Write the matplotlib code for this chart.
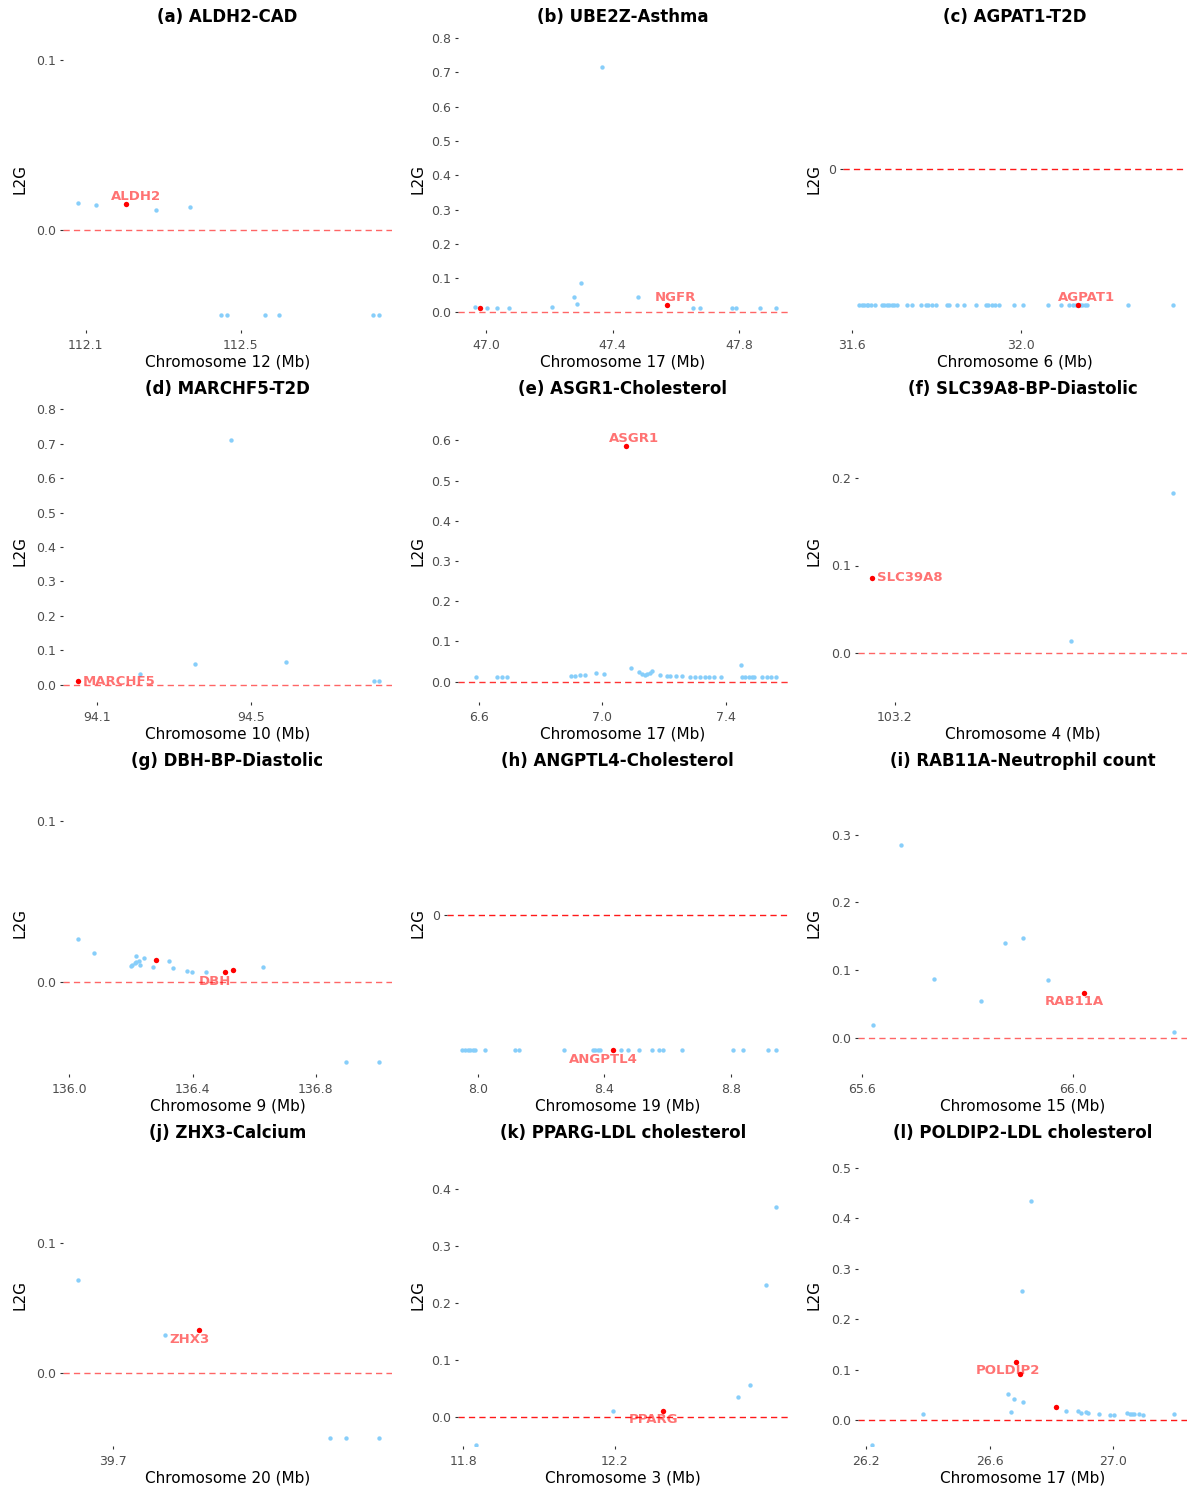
import matplotlib
matplotlib.use('Agg')
import matplotlib.pyplot as plt

plt.rcParams['font.family'] = ['DejaVu Sans']

# ---- L2G scores around each locus (position in Mb); -0.05 = no score ----
a_pos = [112.080, 112.125, 112.280, 112.368, 112.450, 112.464, 112.563, 112.599, 112.842, 112.856]
a_l2g = [0.0157, 0.0145, 0.0114, 0.0135, -0.05, -0.05, -0.05, -0.05, -0.05, -0.05]
a_hit_pos = [112.204]
a_hit_l2g = [0.0151]

b_pos = [46.965, 47.004, 47.034, 47.072, 47.208, 47.277, 47.286, 47.299, 47.365, 47.481,
         47.653, 47.677, 47.777, 47.789, 47.867, 47.918]
b_l2g = [0.0146, 0.0117, 0.0117, 0.0136, 0.0155, 0.0437, 0.0233, 0.0855, 0.714, 0.0457,
         0.0126, 0.0126, 0.0126, 0.0126, 0.0117, 0.0117]
b_hit_pos = [46.982, 47.572]
b_hit_l2g = [0.0117, 0.0204]

c_pos = [31.618, 31.624, 31.629, 31.635, 31.639, 31.646, 31.654, 31.672, 31.677, 31.683,
         31.688, 31.695, 31.701, 31.706, 31.730, 31.742, 31.764, 31.775, 31.781, 31.789,
         31.799, 31.825, 31.830, 31.848, 31.866, 31.894, 31.918, 31.923, 31.931, 31.939,
         31.949, 31.983, 32.006, 32.065, 32.095, 32.115, 32.123, 32.130, 32.140, 32.146,
         32.152, 32.158, 32.255, 32.360]
c_l2g = [-0.05, -0.05, -0.05, -0.05, -0.05, -0.05, -0.05, -0.05, -0.05, -0.05,
         -0.05, -0.05, -0.05, -0.05, -0.05, -0.05, -0.05, -0.05, -0.05, -0.05,
         -0.05, -0.05, -0.05, -0.05, -0.05, -0.05, -0.05, -0.05, -0.05, -0.05,
         -0.05, -0.05, -0.05, -0.05, -0.05, -0.05, -0.05, -0.05, -0.05, -0.05,
         -0.05, -0.05, -0.05, -0.05]
c_hit_pos = [32.135]
c_hit_l2g = [-0.05]

d_pos = [94.212, 94.354, 94.448, 94.591, 94.819, 94.833]
d_l2g = [0.030, 0.060, 0.711, 0.065, 0.0107, 0.0107]
d_hit_pos = [94.052]
d_hit_l2g = [0.0107]

e_pos = [6.590, 6.657, 6.674, 6.690, 6.897, 6.911, 6.928, 6.944, 6.978, 7.005,
         7.092, 7.120, 7.130, 7.138, 7.146, 7.155, 7.162, 7.187, 7.209, 7.219,
         7.239, 7.257, 7.284, 7.301, 7.317, 7.333, 7.347, 7.362, 7.385, 7.450,
         7.452, 7.463, 7.474, 7.484, 7.492, 7.517, 7.533, 7.547, 7.563]
e_l2g = [0.0116, 0.0116, 0.0116, 0.0116, 0.0141, 0.0141, 0.0157, 0.0166, 0.0207, 0.0199,
         0.0331, 0.0249, 0.0199, 0.0174, 0.0182, 0.0207, 0.0265, 0.0174, 0.0149, 0.0149,
         0.0141, 0.0141, 0.0124, 0.0124, 0.0124, 0.0124, 0.0124, 0.0124, 0.0124, 0.0406,
         0.0124, 0.0124, 0.0124, 0.0124, 0.0124, 0.0124, 0.0124, 0.0124, 0.0124]
e_hit_pos = [7.077]
e_hit_l2g = [0.5866]

f_pos = [103.420, 103.548]
f_l2g = [0.0141, 0.1825]
f_hit_pos = [103.172]
f_hit_l2g = [0.0861]

g_pos = [136.028, 136.081, 136.199, 136.205, 136.212, 136.218, 136.225, 136.218, 136.230, 136.244,
         136.272, 136.325, 136.337, 136.381, 136.399, 136.445, 136.629, 136.899, 137.004]
g_l2g = [0.0265, 0.0180, 0.0095, 0.0106, 0.0114, 0.0120, 0.0126, 0.0161, 0.0101, 0.0149,
         0.0091, 0.0126, 0.0085, 0.0064, 0.0062, 0.0060, 0.0089, -0.05, -0.05]
g_hit_pos = [136.280, 136.504, 136.531]
g_hit_l2g = [0.0135, 0.0062, 0.0072]

h_pos = [7.951, 7.961, 7.970, 7.977, 7.985, 7.993, 8.024, 8.117, 8.129, 8.271,
         8.364, 8.371, 8.380, 8.387, 8.452, 8.476, 8.508, 8.552, 8.574, 8.585,
         8.645, 8.805, 8.839, 8.918, 8.941]
h_l2g = [-0.05, -0.05, -0.05, -0.05, -0.05, -0.05, -0.05, -0.05, -0.05, -0.05,
         -0.05, -0.05, -0.05, -0.05, -0.05, -0.05, -0.05, -0.05, -0.05, -0.05,
         -0.05, -0.05, -0.05, -0.05, -0.05]
h_hit_pos = [8.427]
h_hit_l2g = [-0.05]

i_pos = [65.620, 65.673, 65.735, 65.824, 65.871, 65.905, 65.952, 66.190]
i_l2g = [0.0192, 0.2842, 0.0872, 0.0547, 0.1394, 0.1468, 0.0852, 0.0089]
i_hit_pos = [66.020]
i_hit_l2g = [0.0665]

j_pos = [39.657, 39.766, 39.972, 39.991, 40.033]
j_l2g = [0.0715, 0.0290, -0.05, -0.05, -0.05]
j_hit_pos = [39.808]
j_hit_l2g = [0.0328]

k_pos = [11.833, 12.194, 12.526, 12.556, 12.598, 12.626]
k_l2g = [-0.05, 0.0094, 0.0352, 0.0563, 0.2317, 0.3689]
k_hit_pos = [12.328]
k_hit_l2g = [0.0106]

l_pos = [26.219, 26.383, 26.659, 26.669, 26.677, 26.705, 26.706, 26.735, 26.846, 26.885,
         26.894, 26.912, 26.918, 26.954, 26.988, 27.002, 27.043, 27.054, 27.062, 27.068,
         27.084, 27.097, 27.196]
l_l2g = [-0.05, 0.0119, 0.0528, 0.0172, 0.0416, 0.2563, 0.0370, 0.4346, 0.0192, 0.0178,
         0.0145, 0.0172, 0.0145, 0.0119, 0.0106, 0.0106, 0.0139, 0.0132, 0.0119, 0.0132,
         0.0132, 0.0112, 0.0119]
l_hit_pos = [26.686, 26.699, 26.815]
l_hit_l2g = [0.1162, 0.0925, 0.0258]

titles = ['(a) ALDH2-CAD', '(b) UBE2Z-Asthma', '(c) AGPAT1-T2D',
          '(d) MARCHF5-T2D', '(e) ASGR1-Cholesterol', '(f) SLC39A8-BP-Diastolic',
          '(g) DBH-BP-Diastolic', '(h) ANGPTL4-Cholesterol', '(i) RAB11A-Neutrophil count',
          '(j) ZHX3-Calcium', '(k) PPARG-LDL cholesterol', '(l) POLDIP2-LDL cholesterol']
genes = ['ALDH2', 'NGFR', 'AGPAT1', 'MARCHF5', 'ASGR1', 'SLC39A8',
         'DBH', 'ANGPTL4', 'RAB11A', 'ZHX3', 'PPARG', 'POLDIP2']
chroms = [12, 17, 6, 10, 17, 4, 9, 19, 15, 20, 3, 17]
xticks = [[112.1, 112.5], [47.0, 47.4, 47.8], [31.6, 32.0],
          [94.1, 94.5], [6.6, 7.0, 7.4], [103.2],
          [136.0, 136.4, 136.8], [8.0, 8.4, 8.8], [65.6, 66.0],
          [39.7], [11.8, 12.2], [26.2, 26.6, 27.0]]
yticks = [[0.0, 0.1], [0.0, 0.1, 0.2, 0.3, 0.4, 0.5, 0.6, 0.7, 0.8], [0],
          [0.0, 0.1, 0.2, 0.3, 0.4, 0.5, 0.6, 0.7, 0.8], [0.0, 0.1, 0.2, 0.3, 0.4, 0.5, 0.6],
          [0.0, 0.1, 0.2],
          [0.0, 0.1], [0], [0.0, 0.1, 0.2, 0.3],
          [0.0, 0.1], [0.0, 0.1, 0.2, 0.3, 0.4], [0.0, 0.1, 0.2, 0.3, 0.4, 0.5]]

positions = [a_pos, b_pos, c_pos, d_pos, e_pos, f_pos, g_pos, h_pos, i_pos, j_pos, k_pos, l_pos]
scores = [a_l2g, b_l2g, c_l2g, d_l2g, e_l2g, f_l2g, g_l2g, h_l2g, i_l2g, j_l2g, k_l2g, l_l2g]
hit_positions = [a_hit_pos, b_hit_pos, c_hit_pos, d_hit_pos, e_hit_pos, f_hit_pos,
                 g_hit_pos, h_hit_pos, i_hit_pos, j_hit_pos, k_hit_pos, l_hit_pos]
hit_scores = [a_hit_l2g, b_hit_l2g, c_hit_l2g, d_hit_l2g, e_hit_l2g, f_hit_l2g,
              g_hit_l2g, h_hit_l2g, i_hit_l2g, j_hit_l2g, k_hit_l2g, l_hit_l2g]

# ---- layout (pixels) ----
W, H = 1189, 1488
lefts = [63, 458, 843, 63, 458, 858, 63, 447, 858, 63, 458, 858]
rights = [392, 788, 1187]
ylab_x = [27, 425, 822]
xlims = [(112.041, 112.890), (46.911, 47.955), (31.579, 32.394),
         (94.012, 94.867), (6.532, 7.602), (103.154, 103.565),
         (135.980, 137.047), (7.903, 8.980), (65.592, 66.215),
         (39.638, 40.049), (11.786, 12.657), (26.173, 27.239)]
ylims = [(-0.0588, 0.118), (-0.051, 0.826), (-0.059, 0.0515),
         (-0.050, 0.824), (-0.0505, 0.698), (-0.056, 0.288),
         (-0.0573, 0.1296), (-0.0587, 0.0522), (-0.0536, 0.391),
         (-0.056, 0.1754), (-0.0516, 0.478), (-0.051, 0.5456)]
# label offset from the labelled red point: dx, dy (px, down positive), alignment, which point
label_place = [(10, -7.7, 'center', 0), (9, -7.6, 'center', 1), (9, -7.6, 'center', 0),
               (4, 0, 'left', 0), (8, -7.4, 'center', 0), (4.6, 0, 'left', 0),
               (-9.7, 9.6, 'center', 1), (-9.4, 8.7, 'center', 0), (-9.3, 9, 'center', 0),
               (-9.4, 9, 'center', 0), (-9.4, 8.6, 'center', 0), (-8.4, 8.6, 'center', 0)]
line_alpha = [0.6, 0.6, 0.9, 0.6, 0.8, 0.6, 0.6, 0.9, 0.6, 0.6, 0.9, 0.9]

fig = plt.figure(figsize=(W / 100, H / 100), dpi=100)

for n in range(12):
    r, c = divmod(n, 3)
    left, right = lefts[n], rights[c]
    top, bottom = 29 + 372 * r, 330 + 372 * r
    ax = fig.add_axes([left / W, 1 - bottom / H, (right - left) / W, (bottom - top) / H])

    ax.axhline(0, color='red', lw=1.0, ls=(0, (4.5, 3)), alpha=line_alpha[n], zorder=1)
    ax.scatter(positions[n], scores[n], s=10, color='#87CEFA', linewidths=0, zorder=2)
    ax.scatter(hit_positions[n], hit_scores[n], s=15, color='red', linewidths=0, zorder=3)

    dx, dy, ha, k = label_place[n]
    ax.annotate(genes[n], (hit_positions[n][k], hit_scores[n][k]),
                xytext=(dx * 0.72, -dy * 0.72), textcoords='offset points',
                ha=ha, va='center', color='red', alpha=0.55,
                fontsize=9.5, fontweight='bold', zorder=4)

    ax.set_xlim(*xlims[n])
    ax.set_ylim(*ylims[n])
    ax.set_xticks(xticks[n], labels=[f'{v:.1f}' for v in xticks[n]])
    if len(yticks[n]) == 1:
        ax.set_yticks(yticks[n], labels=['0'])
    else:
        ax.set_yticks(yticks[n], labels=[f'{v:.1f}' for v in yticks[n]])

    for side in ['top', 'right', 'bottom', 'left']:
        ax.spines[side].set_visible(False)
    ax.tick_params(axis='both', length=2.2, width=0.8, color='#333333',
                   labelcolor='#4D4D4D', labelsize=9, pad=3)
    ax.tick_params(axis='x', pad=4)

    ax.set_title(titles[n], fontsize=12, fontweight='bold', pad=5)
    ax.set_xlabel(f'Chromosome {chroms[n]} (Mb)', fontsize=11, labelpad=2)
    ax.set_ylabel('L2G', fontsize=11)
    ax.yaxis.set_label_coords((ylab_x[c] - left) / (right - left), 0.5)

plt.savefig('out.png', dpi=100, facecolor='white')
